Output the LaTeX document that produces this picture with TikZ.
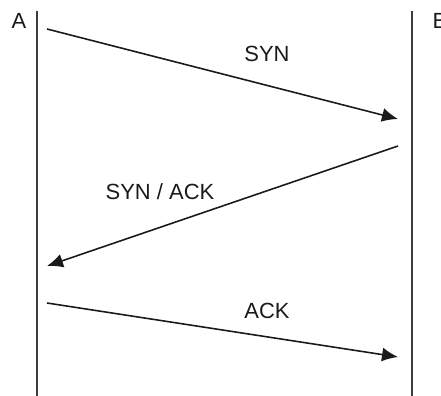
\documentclass[tikz,border=0pt]{standalone}
\usepackage{fontspec}
\setmainfont{Liberation Sans}
\usetikzlibrary{arrows.meta}
\definecolor{inkline}{HTML}{1A1A1A}

\begin{document}
\begin{tikzpicture}[x=0.02cm, y=-0.02cm,
      lifeline/.style={draw=inkline!85, line width=0.9pt},
      msg/.style={-{Latex[length=3.2mm, width=2.8mm]}, line width=0.9pt, inkline},
      msglabel/.style={font=\fontsize{12.5}{15}\selectfont, text=inkline, inner sep=0pt},
    ]
    \useasboundingbox (0,0) rectangle (441,396);

    % lifelines
    \coordinate (aTop) at (37,11);
    \coordinate (aBot) at (37,396);
    \coordinate (bTop) at (412,11);
    \coordinate (bBot) at (412,396);
    \draw[lifeline] (aTop) -- (aBot);
    \draw[lifeline] (bTop) -- (bBot);
    \node[msglabel] (hostA) at (19,21) {A};
    \node[msglabel] (hostB) at (440,21) {B};

    % handshake
    \coordinate (synS) at (47,29);
    \coordinate (synE) at (398,119);
    \coordinate (synackS) at (398,146);
    \coordinate (synackE) at (47,266);
    \coordinate (ackS) at (47,303);
    \coordinate (ackE) at (398,357);
    \draw[msg] (synS) -- (synE);
    \draw[msg] (synackS) -- (synackE);
    \draw[msg] (ackS) -- (ackE);

    \node[msglabel] (synL) at (267,54) {SYN};
    \node[msglabel] (synackL) at (160,192) {SYN / ACK};
    \node[msglabel] (ackL) at (267,311) {ACK};
  \end{tikzpicture}
\end{document}
